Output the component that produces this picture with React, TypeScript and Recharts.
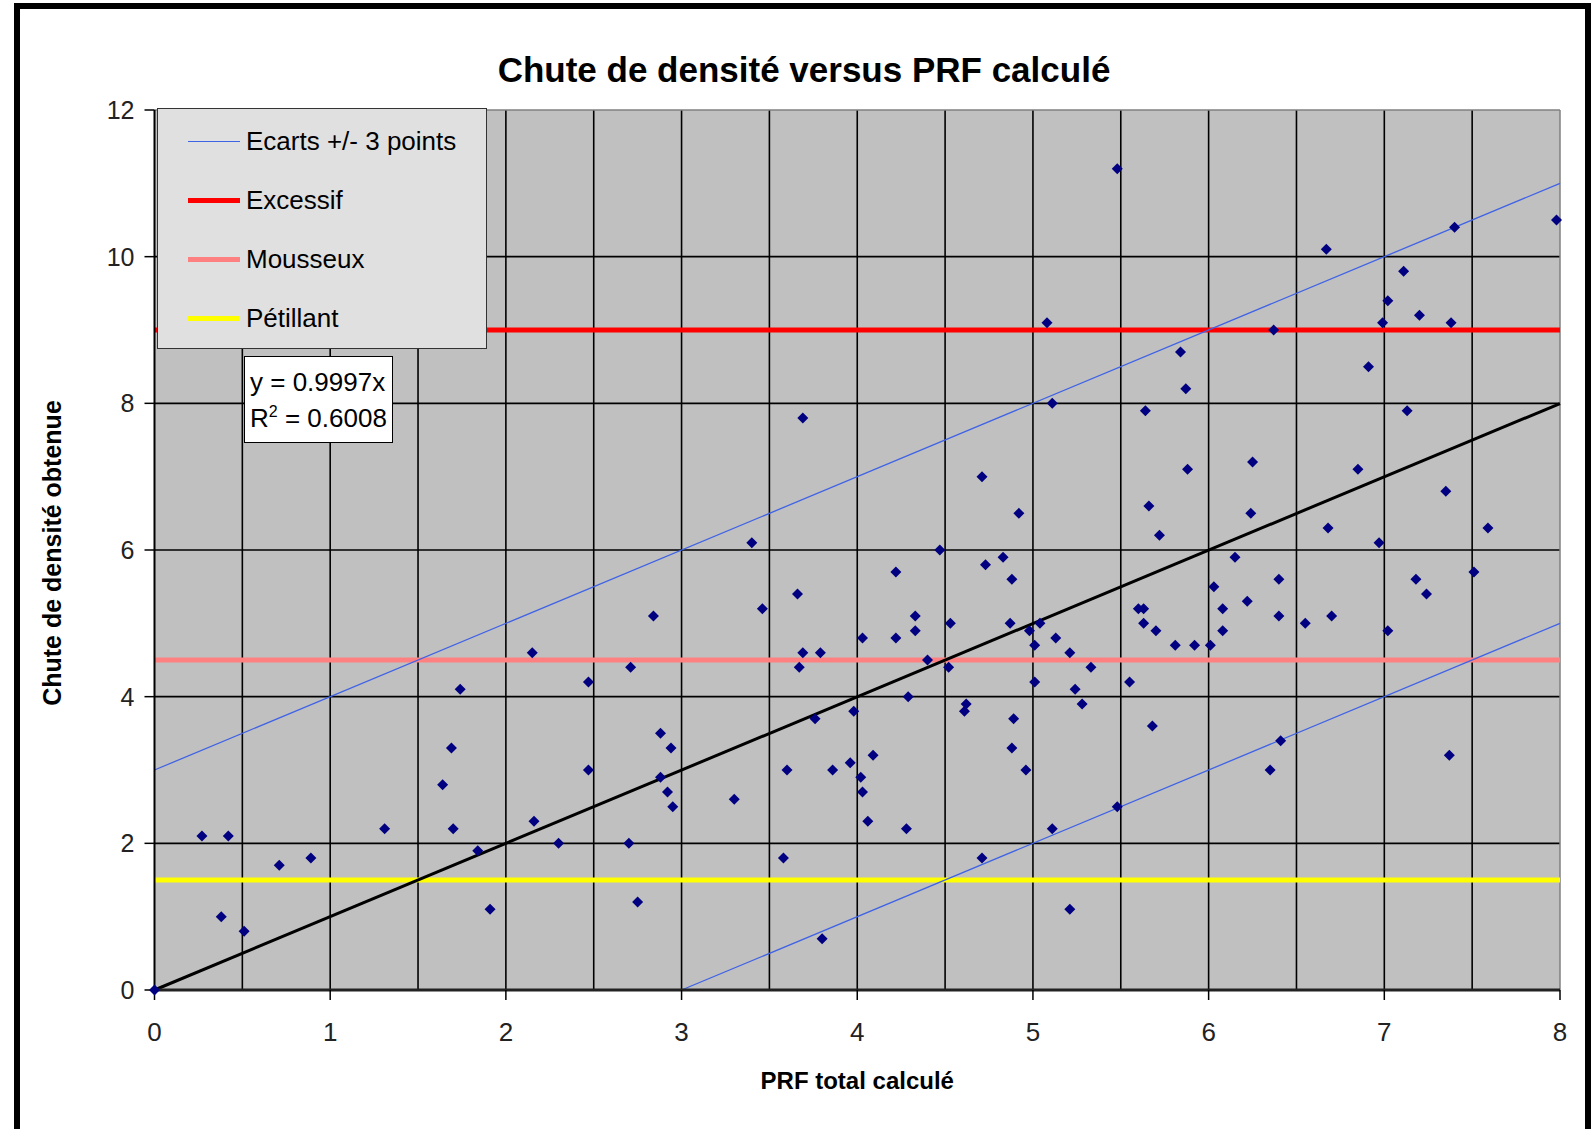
import React from 'react';
import { ScatterChart, Scatter, XAxis, YAxis, CartesianGrid, ReferenceLine, Legend } from 'recharts';

// PRF total calculé (x) and chute de densité obtenue (y)
const prfTotal = [
  0, 0.27, 0.38, 0.42, 0.51, 0.71, 0.89, 1.31, 1.64, 1.69, 1.7, 1.74, 1.84, 1.91,
  2.15, 2.16, 2.3, 2.47, 2.47, 2.7, 2.71, 2.75, 2.84, 2.88, 2.88, 2.92, 2.94, 2.95,
  3.3, 3.4, 3.46, 3.58, 3.6, 3.66, 3.67, 3.69, 3.69, 3.76, 3.79, 3.8, 3.86, 3.96, 3.98,
  4.02, 4.03, 4.03, 4.06, 4.09, 4.22, 4.22, 4.28, 4.29, 4.33, 4.33, 4.4, 4.47, 4.52, 4.53,
  4.61, 4.62, 4.71, 4.71, 4.73, 4.83, 4.87, 4.88, 4.88, 4.89, 4.92, 4.96, 4.98,
  5.01, 5.01, 5.04, 5.08, 5.11, 5.11, 5.13, 5.21, 5.21, 5.24, 5.28, 5.33, 5.48, 5.48,
  5.55, 5.6, 5.63, 5.63, 5.64, 5.66, 5.68, 5.7, 5.72, 5.81, 5.84, 5.87, 5.88, 5.92,
  6.01, 6.03, 6.08, 6.08, 6.15, 6.22, 6.24, 6.25, 6.35, 6.37, 6.4, 6.4, 6.41, 6.55,
  6.67, 6.68, 6.7, 6.85, 6.91, 6.97, 6.99, 7.02, 7.02, 7.11, 7.13, 7.18, 7.2, 7.24,
  7.35, 7.37, 7.38, 7.4, 7.51, 7.59, 7.98,
];
const densityDrop = [
  0, 2.1, 1.0, 2.1, 0.8, 1.7, 1.8, 2.2, 2.8, 3.3, 2.2, 4.1, 1.9, 1.1,
  4.6, 2.3, 2.0, 4.2, 3.0, 2.0, 4.4, 1.2, 5.1, 3.5, 2.9, 2.7, 3.3, 2.5,
  2.6, 6.1, 5.2, 1.8, 3.0, 5.4, 4.4, 4.6, 7.8, 3.7, 4.6, 0.7, 3.0, 3.1, 3.8,
  2.9, 4.8, 2.7, 2.3, 3.2, 5.7, 4.8, 2.2, 4.0, 5.1, 4.9, 4.5, 6.0, 4.4, 5.0,
  3.8, 3.9, 7.0, 1.8, 5.8, 5.9, 5.0, 5.6, 3.3, 3.7, 6.5, 3.0, 4.9,
  4.7, 4.2, 5.0, 9.1, 8.0, 2.2, 4.8, 4.6, 1.1, 4.1, 3.9, 4.4, 11.2, 2.5,
  4.2, 5.2, 5.2, 5.0, 7.9, 6.6, 3.6, 4.9, 6.2, 4.7, 8.7, 8.2, 7.1, 4.7,
  4.7, 5.5, 5.2, 4.9, 5.9, 5.3, 6.5, 7.2, 3.0, 9.0, 5.6, 5.1, 3.4, 5.0,
  10.1, 6.3, 5.1, 7.1, 8.5, 6.1, 9.1, 9.4, 4.9, 9.8, 7.9, 5.6, 9.2, 5.4,
  6.8, 3.2, 9.1, 10.4, 5.7, 6.3, 10.5,
];

const xTicks = [0, 1, 2, 3, 4, 5, 6, 7, 8];
const yTicks = [0, 2, 4, 6, 8, 10, 12];
const xGridValues = [0.5, 1, 1.5, 2, 2.5, 3, 3.5, 4, 4.5, 5, 5.5, 6, 6.5, 7, 7.5];
const yGridValues = [2, 4, 6, 8, 10];

const bandLabel = 'Ecarts +/- 3 points';
const bandOffset = 3;
const thresholdLabels = ['Excessif', 'Mousseux', 'Pétillant'];
const thresholdValues = [9, 4.5, 1.5];
const trendSlope = 0.9997;
const trendR2 = 0.6008;

const xMax = 8;
const yMax = 12;

const points = prfTotal.map((x, i) => ({ x, y: densityDrop[i] }));

const FONT = '"Liberation Sans", Arial, sans-serif';
const BAND_COLOR = '#3f62e6';
const thresholdColors = ['#ff0000', '#ff8080', '#ffff00'];

const Diamond = (props: any) => {
  const { cx, cy } = props;
  const r = 5.5;
  return (
    <polygon
      points={`${cx},${cy - r} ${cx + r},${cy} ${cx},${cy + r} ${cx - r},${cy}`}
      fill="#000080"
    />
  );
};

const legendItems = [
  { label: bandLabel, color: BAND_COLOR, width: 1.5 },
  ...thresholdLabels.map((label, i) => ({ label, color: thresholdColors[i], width: 5 })),
];

const LegendBox = () => (
  <div
    style={{
      width: 330,
      height: 241,
      boxSizing: 'border-box',
      background: '#e0e0e0',
      border: '1.5px solid #333',
      paddingTop: 3,
      fontFamily: FONT,
      fontSize: 26,
      color: '#000',
    }}
  >
    {legendItems.map((item) => (
      <div key={item.label} style={{ height: 59, display: 'flex', alignItems: 'center' }}>
        <div style={{ marginLeft: 30, width: 52, height: item.width, background: item.color }} />
        <span style={{ marginLeft: 6, whiteSpace: 'nowrap' }}>{item.label}</span>
      </div>
    ))}
  </div>
);

const YTitle = (props: any) => {
  const vb = props.viewBox || {};
  const cx = 52;
  const cy = (vb.y || 110) + (vb.height || 880) / 2 + 3;
  return (
    <text
      x={cx}
      y={cy}
      transform={`rotate(-90, ${cx}, ${cy})`}
      textAnchor="middle"
      dominantBaseline="central"
      fontFamily={FONT}
      fontWeight="bold"
      fontSize={25}
      fill="#000"
    >
      Chute de densité obtenue
    </text>
  );
};

const XTitle = (props: any) => {
  const vb = props.viewBox || {};
  const cx = (vb.x || 154) + (vb.width || 1406) / 2;
  return (
    <text x={cx} y={1089} textAnchor="middle" fontFamily={FONT} fontWeight="bold" fontSize={24} fill="#000">
      PRF total calculé
    </text>
  );
};

export default function App() {
  return (
    <div
      style={{
        position: 'absolute',
        left: 0,
        top: 0,
        width: 1594,
        height: 1129,
        overflow: 'hidden',
        background: '#fff',
      }}
    >
      <div
        style={{
          position: 'absolute',
          left: 0,
          top: 50,
          width: 1608,
          textAlign: 'center',
          fontFamily: FONT,
          fontWeight: 'bold',
          fontSize: 35,
          lineHeight: '40px',
          color: '#000',
        }}
      >
        Chute de densité versus PRF calculé
      </div>
      <div style={{ position: 'absolute', left: 0, top: 0 }}>
        <ScatterChart width={1594} height={1129} margin={{ top: 110, right: 34, bottom: 39, left: 24.5 }}>
          <CartesianGrid
            fill="#c0c0c0"
            stroke="#000"
            strokeWidth={1.6}
            verticalValues={xGridValues}
            horizontalValues={yGridValues}
          />
          <XAxis
            type="number"
            dataKey="x"
            domain={[0, xMax]}
            ticks={xTicks}
            height={100}
            tickSize={10}
            tickMargin={23}
            axisLine={{ stroke: '#222', strokeWidth: 3 }}
            tickLine={{ stroke: '#000', strokeWidth: 1.5 }}
            tick={{ fontSize: 26, fill: '#222', fontFamily: FONT }}
            label={<XTitle />}
          />
          <YAxis
            type="number"
            dataKey="y"
            domain={[0, yMax]}
            ticks={yTicks}
            width={130}
            tickSize={10}
            tickMargin={10}
            axisLine={{ stroke: '#000', strokeWidth: 2 }}
            tickLine={{ stroke: '#000', strokeWidth: 1.5 }}
            tick={{ fontSize: 25, fill: '#222', fontFamily: FONT }}
            label={<YTitle />}
          />
          <ReferenceLine y={yMax} stroke="#808080" strokeWidth={1.5} />
          <ReferenceLine x={xMax} stroke="#808080" strokeWidth={1.5} />
          {thresholdValues.map((v, i) => (
            <ReferenceLine key={thresholdLabels[i]} y={v} stroke={thresholdColors[i]} strokeWidth={5} />
          ))}
          <ReferenceLine
            segment={[{ x: 0, y: bandOffset }, { x: xMax, y: xMax + bandOffset }]}
            stroke={BAND_COLOR}
            strokeWidth={1.3}
          />
          <ReferenceLine
            segment={[{ x: bandOffset, y: 0 }, { x: xMax, y: xMax - bandOffset }]}
            stroke={BAND_COLOR}
            strokeWidth={1.3}
          />
          <ReferenceLine
            segment={[{ x: 0, y: 0 }, { x: xMax, y: xMax * trendSlope }]}
            stroke="#000"
            strokeWidth={3}
          />
          <Scatter name="Chute de densité" data={points} shape={<Diamond />} isAnimationActive={false} />
          <Legend
            layout="vertical"
            align="center"
            verticalAlign="middle"
            wrapperStyle={{ left: 157, top: 108, width: 330, height: 241 }}
            content={() => <LegendBox />}
          />
        </ScatterChart>
      </div>
      <div
        style={{
          position: 'absolute',
          left: 244,
          top: 356,
          width: 149,
          height: 87,
          boxSizing: 'border-box',
          background: '#fff',
          border: '1.5px solid #000',
          fontFamily: FONT,
          fontSize: 26,
          lineHeight: '36px',
          paddingTop: 7,
          paddingLeft: 5,
          color: '#000',
          whiteSpace: 'nowrap',
        }}
      >
        <div>y = {trendSlope}x</div>
        <div>
          R<sup style={{ fontSize: 16, lineHeight: 0 }}>2</sup> = {trendR2}
        </div>
      </div>
      <div
        style={{
          position: 'absolute',
          left: 14,
          top: 3,
          width: 1577,
          height: 1200,
          boxSizing: 'border-box',
          border: '6px solid #000',
          pointerEvents: 'none',
        }}
      />
    </div>
  );
}
